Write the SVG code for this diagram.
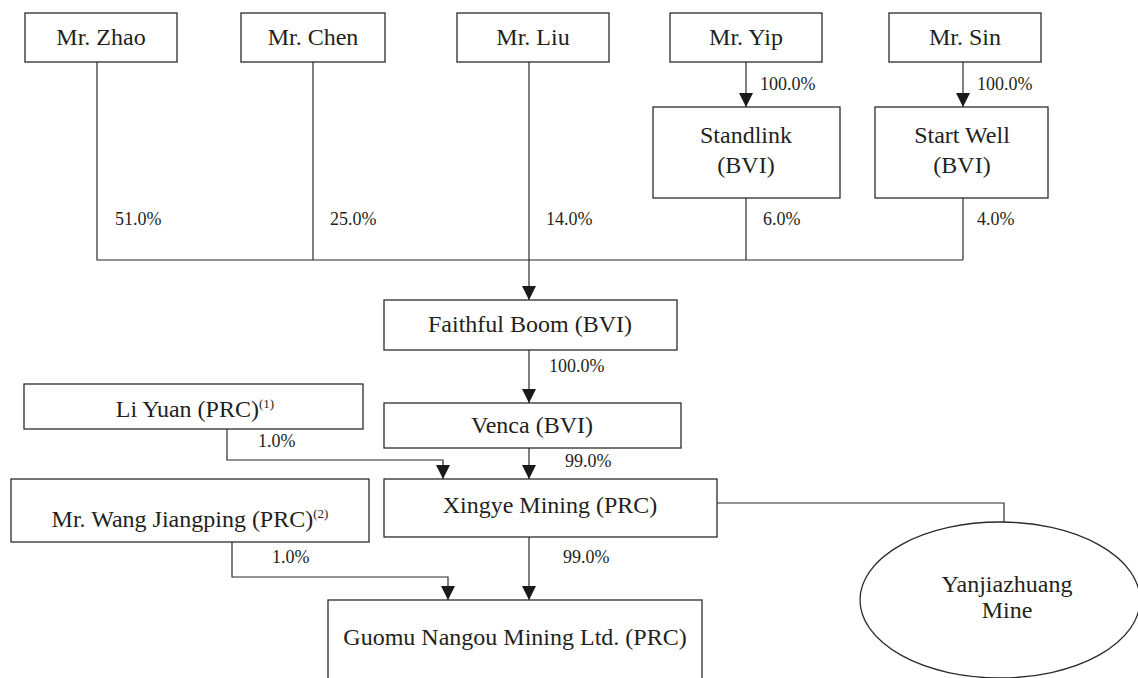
<svg xmlns="http://www.w3.org/2000/svg" width="1138" height="678" viewBox="0 0 1138 678">
<style>
.box{fill:#fff;stroke:#2b2b2b;stroke-width:1.3}
.ln{fill:none;stroke:#2b2b2b;stroke-width:1.2}
.t{font-family:"Liberation Serif","Times New Roman",serif;font-size:24px;fill:#231f20;text-anchor:middle}
.p{font-family:"Liberation Serif","Times New Roman",serif;font-size:18px;fill:#231f20}
.sup{font-size:13px}
</style>
<defs>
<marker id="arr" markerUnits="userSpaceOnUse" markerWidth="14" markerHeight="15" refX="14" refY="7" orient="auto">
<path d="M0,0 L14,7 L0,14 z" fill="#1a1a1a"/>
</marker>
</defs>
<rect width="1138" height="678" fill="#fff"/>
<g id="connectors">
<path class="ln" d="M97,62 V260 H963"/>
<path class="ln" d="M313,62 V260"/>
<path class="ln" d="M746,198 V260"/>
<path class="ln" d="M963,198 V260"/>
<path class="ln" d="M529,62 V300" marker-end="url(#arr)"/>
<path class="ln" d="M746,62 V107" marker-end="url(#arr)"/>
<path class="ln" d="M963,62 V107" marker-end="url(#arr)"/>
<path class="ln" d="M529,350 V403" marker-end="url(#arr)"/>
<path class="ln" d="M529,448 V479" marker-end="url(#arr)"/>
<path class="ln" d="M227,429 V460 H443 V479" marker-end="url(#arr)"/>
<path class="ln" d="M529,537 V600" marker-end="url(#arr)"/>
<path class="ln" d="M232,542 V577 H448 V600" marker-end="url(#arr)"/>
<path class="ln" d="M717,503 H1004 V522"/>
<text class="p" x="115" y="225">51.0%</text>
<text class="p" x="330" y="225">25.0%</text>
<text class="p" x="546" y="225">14.0%</text>
<text class="p" x="763" y="225">6.0%</text>
<text class="p" x="977" y="225">4.0%</text>
<text class="p" x="760" y="90">100.0%</text>
<text class="p" x="977" y="90">100.0%</text>
<text class="p" x="549" y="372">100.0%</text>
<text class="p" x="565" y="467">99.0%</text>
<text class="p" x="258" y="447">1.0%</text>
<text class="p" x="272" y="563">1.0%</text>
<text class="p" x="563" y="563">99.0%</text>
</g>
<g id="zhao"><rect class="box" x="25" y="13" width="152" height="49"/><text class="t" x="101" y="45">Mr. Zhao</text></g>
<g id="chen"><rect class="box" x="241" y="13" width="144" height="49"/><text class="t" x="313" y="45">Mr. Chen</text></g>
<g id="liu"><rect class="box" x="457" y="13" width="152" height="49"/><text class="t" x="533" y="45">Mr. Liu</text></g>
<g id="yip"><rect class="box" x="670" y="13" width="152" height="49"/><text class="t" x="746" y="45">Mr. Yip</text></g>
<g id="sin"><rect class="box" x="889" y="13" width="152" height="49"/><text class="t" x="965" y="45">Mr. Sin</text></g>
<g id="standlink"><rect class="box" x="653" y="107" width="187" height="91"/><text class="t" x="746" y="143">Standlink</text><text class="t" x="746" y="173">(BVI)</text></g>
<g id="startwell"><rect class="box" x="875" y="107" width="173" height="91"/><text class="t" x="962" y="143">Start Well</text><text class="t" x="962" y="173">(BVI)</text></g>
<g id="faithful"><rect class="box" x="384" y="300" width="293" height="50"/><text class="t" x="530" y="332">Faithful Boom (BVI)</text></g>
<g id="venca"><rect class="box" x="384" y="403" width="297" height="45"/><text class="t" x="532" y="433">Venca (BVI)</text></g>
<g id="liyuan"><rect class="box" x="24" y="384" width="339" height="45"/><text class="t" x="195" y="417">Li Yuan (PRC)<tspan class="sup" dy="-9">(1)</tspan></text></g>
<g id="xingye"><rect class="box" x="384" y="479" width="333" height="58"/><text class="t" x="550" y="513">Xingye Mining (PRC)</text></g>
<g id="wang"><rect class="box" x="11" y="479" width="358" height="63"/><text class="t" x="190" y="527">Mr. Wang Jiangping (PRC)<tspan class="sup" dy="-9">(2)</tspan></text></g>
<g id="guomu"><rect class="box" x="328" y="600" width="374" height="90"/><text class="t" x="515" y="645">Guomu Nangou Mining Ltd. (PRC)</text></g>
<g id="yanjiazhuang"><ellipse class="box" cx="1000" cy="600" rx="140" ry="78"/><text class="t" x="1007" y="592">Yanjiazhuang</text><text class="t" x="1007" y="618">Mine</text></g>
</svg>
